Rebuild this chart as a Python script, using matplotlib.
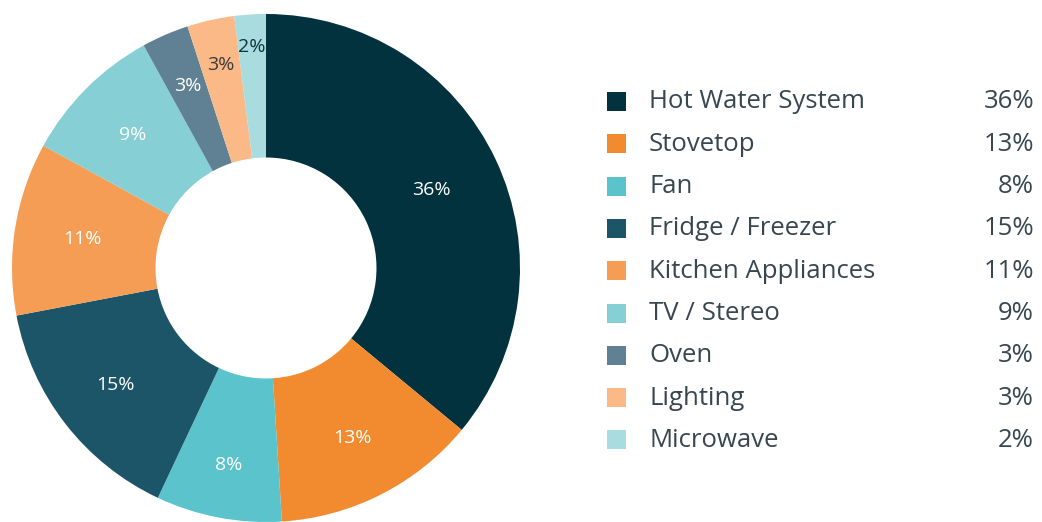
import numpy as np
import matplotlib.pyplot as plt
from matplotlib.patches import Rectangle

plt.rcParams['font.family'] = ['Open Sans', 'DejaVu Sans']

categories = ['Hot Water System', 'Stovetop', 'Fan', 'Fridge / Freezer',
              'Kitchen Appliances', 'TV / Stereo', 'Oven', 'Lighting', 'Microwave']
shares = [36, 13, 8, 15, 11, 9, 3, 3, 2]

colors = ['#03323f', '#f28b30', '#5bc3cb', '#1c5568', '#f59d55',
          '#86cfd4', '#5f8193', '#fbb987', '#a9dcdf']
label_colors = ['white'] * 7 + ['#3b3b3b', '#0d3342']
# radial position of each percentage label, as a fraction of the outer radius
label_r = [0.72, 0.75, 0.79, 0.75, 0.73, 0.74, 0.78, 0.82, 0.87]

fig = plt.figure(figsize=(10.42, 5.22), dpi=100)
ax = fig.add_axes([0, 0, 1, 1])

cx, cy, R = 266, 254, 254
wedges, _ = ax.pie(shares, colors=colors, startangle=90, counterclock=False,
                   radius=R, center=(cx, cy), frame=True,
                   wedgeprops=dict(width=R * 0.565, linewidth=0))
ax.set_xlim(0, 1042)
ax.set_ylim(0, 522)
ax.set_aspect('equal')
ax.axis('off')

cum = np.cumsum(shares) - np.array(shares) / 2
for v, c, col, lr in zip(shares, cum, label_colors, label_r):
    ang = np.deg2rad(90 - c / sum(shares) * 360)
    ax.text(cx + lr * R * np.cos(ang), cy + lr * R * np.sin(ang), f'{v}%',
            color=col, fontsize=14, ha='center', va='center')

# legend
row_y0 = 522 - 102
step = 42.3
for i, (name, v, col) in enumerate(zip(categories, shares, colors)):
    y = row_y0 - i * step
    ax.add_patch(Rectangle((607, y - 9), 19, 19, facecolor=col, linewidth=0))
    ax.text(649, y, name, fontsize=18.5, color='#37464f', va='center', ha='left')
    ax.text(1034, y, f'{v}%', fontsize=18.5, color='#37464f', va='center', ha='right')

fig.savefig('out.png', dpi=100)
